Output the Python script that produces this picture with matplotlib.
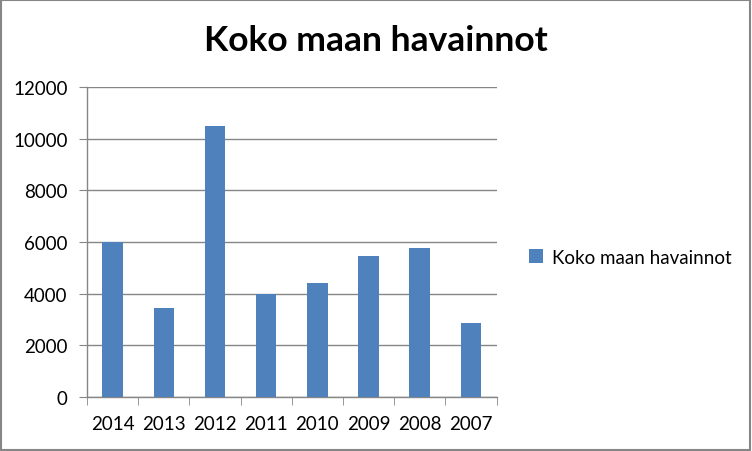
import matplotlib.pyplot as plt
from matplotlib.patches import Rectangle

# Data
years = ['2014', '2013', '2012', '2011', '2010', '2009', '2008', '2007']
counts = [6000, 3450, 10500, 4000, 4420, 5460, 5780, 2870]
series_name = 'Koko maan havainnot'

plt.rcParams['font.family'] = ['Lato', 'DejaVu Sans']

fig = plt.figure(figsize=(7.52, 4.52), dpi=100)
ax = fig.add_axes([87 / 752, 54 / 452, 409.5 / 752, 310 / 452])

grid_col = '#868686'
x = range(len(years))
ax.bar(x, counts, width=0.4, color='#4F81BD', label=series_name, zorder=3)

ax.set_xlim(-0.5, len(years) - 0.5)
ax.set_ylim(0, 12000)
ax.set_yticks(range(0, 12001, 2000))
ax.yaxis.grid(True, color=grid_col, linewidth=1, zorder=0)

# category ticks sit between bars
ax.set_xticks(list(x))
ax.set_xticklabels(years)
ax.set_xticks([i - 0.5 for i in range(len(years) + 1)], minor=True)
ax.tick_params(axis='x', which='major', length=0, pad=13, labelsize=13.5)
ax.tick_params(axis='x', which='minor', length=6, color=grid_col, direction='out')
ax.tick_params(axis='y', length=6, color=grid_col, pad=8, labelsize=13.5)

for s in ['top', 'right']:
    ax.spines[s].set_visible(False)
for s in ['left', 'bottom']:
    ax.spines[s].set_color(grid_col)
    ax.spines[s].set_linewidth(1)

fig.text(376 / 752, 1 - 41 / 452, series_name, ha='center', va='center',
         fontsize=25.5, fontweight='bold')

fig.legend(loc='center left', bbox_to_anchor=(512 / 752, 1 - 258 / 452),
           frameon=False, handlelength=0.75, handleheight=0.75,
           handletextpad=0.5, fontsize=13.5)

# outer chart border
fig.patches.append(Rectangle((0.001, 0.002), 0.997, 0.996, transform=fig.transFigure,
                             fill=False, edgecolor=grid_col, linewidth=1.5))

fig.savefig('out.png', dpi=100)
